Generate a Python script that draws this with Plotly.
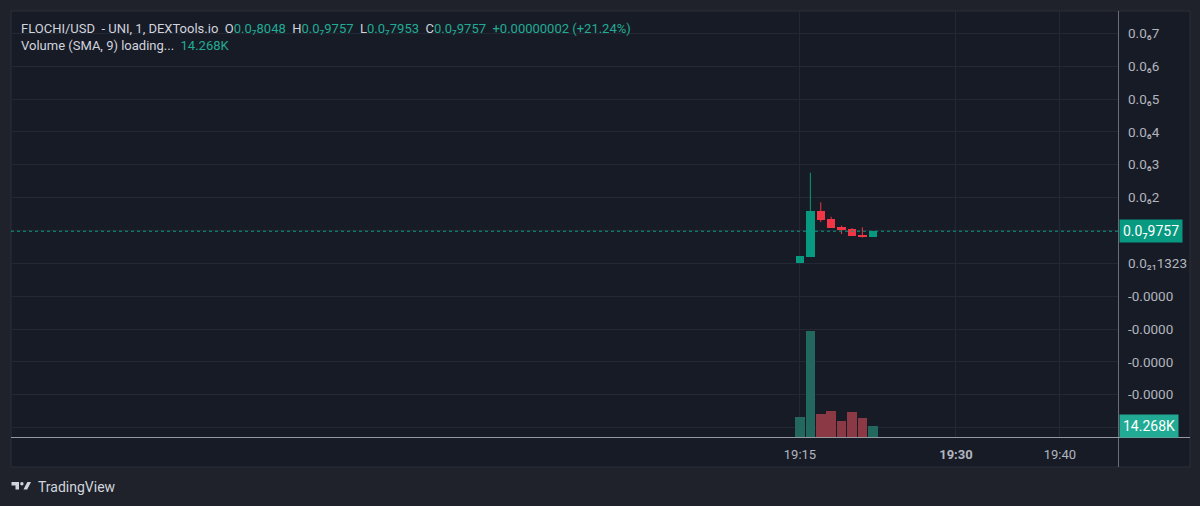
import plotly.graph_objects as go

# ---------------- data ----------------
DAY = "2024-05-20"
times = ["19:15", "19:16", "19:17", "19:18", "19:19", "19:20", "19:21", "19:22"]
opens = [0.0, 2.0e-8, 1.583e-7, 1.339e-7, 1.104e-7, 1.044e-7, 8.61e-8, 8.048e-8]
highs = [2.2e-8, 2.757e-7, 1.856e-7, 1.418e-7, 1.144e-7, 1.074e-7, 1.095e-7, 9.757e-8]
lows = [0.0, 2.0e-8, 1.257e-7, 1.083e-7, 8.92e-8, 8.30e-8, 7.80e-8, 7.953e-8]
closes = [2.2e-8, 1.592e-7, 1.309e-7, 1.083e-7, 1.013e-7, 8.30e-8, 8.048e-8, 9.757e-8]
volumes = [25500, 138000, 30300, 33700, 20400, 32900, 24600, 14268]

price_ticks = [7e-7, 6e-7, 5e-7, 4e-7, 3e-7, 2e-7, 1e-7, 0.0, -1e-7, -2e-7, -3e-7, -4e-7, -5e-7]
price_tick_labels = ["0.0₆7", "0.0₆6", "0.0₆5", "0.0₆4", "0.0₆3", "0.0₆2", "",
                     "0.0₂₁1323", "-0.0000", "-0.0000", "-0.0000", "-0.0000", ""]
time_ticks = ["19:15", "19:30", "19:40"]
time_tick_labels = ["19:15", "<b>19:30</b>", "19:40"]

last_price = 9.757e-8
last_price_label = "0.0₇9757"
last_volume_label = "14.268K"
header_line1 = [("FLOCHI/USD\u00a0\u00a0-\u00a0UNI,\u00a01,\u00a0DEXTools.io\u00a0\u00a0", None),
                ("O", None), ("0.0₇8048", "g"), ("\u00a0\u00a0H", None), ("0.0₇9757", "g"),
                ("\u00a0\u00a0L", None), ("0.0₇7953", "g"), ("\u00a0\u00a0C", None), ("0.0₇9757", "g"),
                ("\u00a0\u00a0+0.00000002\u00a0(+21.24%)", "g")]
header_line2 = [("Volume\u00a0(SMA,\u00a09)\u00a0loading...\u00a0\u00a0", None), ("14.268K", "g")]

# ---------------- styling ----------------
OUTER = "#1f222b"
PANEL = "#171b26"
GRID = "#242834"
UP = "#089981"
DOWN = "#f23645"
VOL_UP = "#22685f"
VOL_DOWN = "#8b3a45"
TXT = "#b2b5be"
HDR = "#d1d4dc"
HDR_G = "#22ab94"
FONT = "Roboto, 'Noto Sans', 'DejaVu Sans', sans-serif"

W, H = 1200, 506
PL, PR, PT, PB = 11, 1118, 11, 437


def px(x):
    return (x - PL) / (PR - PL)


def py(y):
    return (PB - y) / (PB - PT)


xs = [f"{DAY} {t}:00" for t in times]
up = [c >= o for o, c in zip(opens, closes)]

fig = go.Figure()

# volume
fig.add_trace(go.Bar(
    x=xs, y=volumes, width=55000, yaxis="y2",
    marker=dict(color=[VOL_UP if u else VOL_DOWN for u in up], line=dict(width=0)),
    hoverinfo="skip"))

# wicks
for flag, col in ((True, UP), (False, DOWN)):
    wx, wy = [], []
    for x, h, l, u in zip(xs, highs, lows, up):
        if u == flag:
            wx += [x, x, None]
            wy += [l, h, None]
    fig.add_trace(go.Scatter(x=wx, y=wy, mode="lines", line=dict(color=col, width=1),
                             hoverinfo="skip"))

# bodies
fig.add_trace(go.Bar(
    x=xs,
    y=[abs(c - o) for o, c in zip(opens, closes)],
    base=[min(o, c) for o, c in zip(opens, closes)],
    width=49000,
    marker=dict(color=[UP if u else DOWN for u in up], line=dict(width=0)),
    hoverinfo="skip"))


def spans(parts):
    out = ""
    for txt, c in parts:
        if c:
            out += f"<span style='color:{HDR_G}'>{txt}</span>"
        else:
            out += txt
    return out


annotations = [
    dict(xref="paper", yref="paper", x=px(19), y=py(28), xanchor="left", yanchor="middle",
         text=spans(header_line1), showarrow=False, font=dict(family=FONT, size=13, color=HDR)),
    dict(xref="paper", yref="paper", x=px(19), y=py(46), xanchor="left", yanchor="middle",
         text=spans(header_line2), showarrow=False, font=dict(family=FONT, size=13, color=HDR)),
    dict(xref="paper", yref="y", x=px(1119), y=last_price, xanchor="left", yanchor="middle",
         text=last_price_label, showarrow=False, bgcolor=UP, borderpad=3,
         font=dict(family=FONT, size=14, color="#ffffff")),
    dict(xref="paper", yref="y2", x=px(1119), y=volumes[-1], xanchor="left", yanchor="middle",
         text=last_volume_label, showarrow=False, bgcolor=HDR_G, borderpad=3,
         font=dict(family=FONT, size=14, color="#ffffff")),
    dict(xref="paper", yref="paper", x=px(36), y=py(487), xanchor="left", yanchor="middle",
         text="TradingView", showarrow=False, font=dict(family=FONT, size=14, color=HDR)),
]

shapes = [
    # panel
    dict(type="rect", xref="paper", yref="paper", x0=px(11), x1=px(1190), y0=py(467), y1=py(11),
         fillcolor=PANEL, line=dict(color="#2a2e39", width=1), layer="below"),
    # last price dotted line
    dict(type="line", xref="paper", yref="y", x0=0, x1=1, y0=last_price, y1=last_price,
         line=dict(color=UP, width=1, dash="dot")),
    # axis separators
    dict(type="line", xref="paper", yref="paper", x0=px(1118.5), x1=px(1118.5), y0=py(467), y1=py(11),
         line=dict(color="#6a6d78", width=1)),
    dict(type="line", xref="paper", yref="paper", x0=px(11), x1=px(1190), y0=py(437.5), y1=py(437.5),
         line=dict(color="#9598a1", width=1)),
    # logo
    dict(type="path", xref="paper", yref="paper",
         path=f"M {px(11.5)} {py(482)} L {px(19)} {py(482)} L {px(19)} {py(489.5)} L {px(15.5)} {py(489.5)} "
              f"L {px(15.5)} {py(485.5)} L {px(11.5)} {py(485.5)} Z",
         fillcolor=HDR, line=dict(width=0)),
    dict(type="circle", xref="paper", yref="paper", x0=px(20.2), x1=px(23.6), y0=py(485.4), y1=py(482),
         fillcolor=HDR, line=dict(width=0)),
    dict(type="path", xref="paper", yref="paper",
         path=f"M {px(23.5)} {py(489.5)} L {px(27.2)} {py(489.5)} L {px(31)} {py(482)} L {px(27.3)} {py(482)} Z",
         fillcolor=HDR, line=dict(width=0)),
]

fig.update_layout(
    width=W, height=H,
    margin=dict(l=PL, r=W - PR, t=PT, b=H - PB),
    paper_bgcolor=OUTER, plot_bgcolor=PANEL,
    showlegend=False, hovermode=False, barmode="overlay", bargap=0,
    font=dict(family=FONT, color=TXT, size=13),
    xaxis=dict(type="date", range=[f"{DAY} 17:59:08", f"{DAY} 19:45:35"],
               tickvals=[f"{DAY} {t}:00" for t in time_ticks], ticktext=time_tick_labels,
               showgrid=True, gridcolor=GRID, gridwidth=1, zeroline=False, showline=False,
               ticks="", ticklabelstandoff=8, tickfont=dict(family=FONT, size=13, color=TXT),
               fixedrange=True),
    yaxis=dict(side="right", range=[-5.286e-7, 7.679e-7], tickvals=price_ticks,
               ticktext=price_tick_labels, showgrid=True, gridcolor=GRID, gridwidth=1,
               zeroline=False, showline=False, ticks="", ticklabelstandoff=9,
               tickfont=dict(family=FONT, size=13.5, color=TXT), fixedrange=True),
    yaxis2=dict(overlaying="y", range=[0, 552600], visible=False, fixedrange=True),
    annotations=annotations, shapes=shapes,
)

fig.write_html(
    "out.html",
    config={"displayModeBar": False, "staticPlot": True},
    post_script="document.body.style.margin='0';document.body.style.background='" + OUTER + "';",
)
